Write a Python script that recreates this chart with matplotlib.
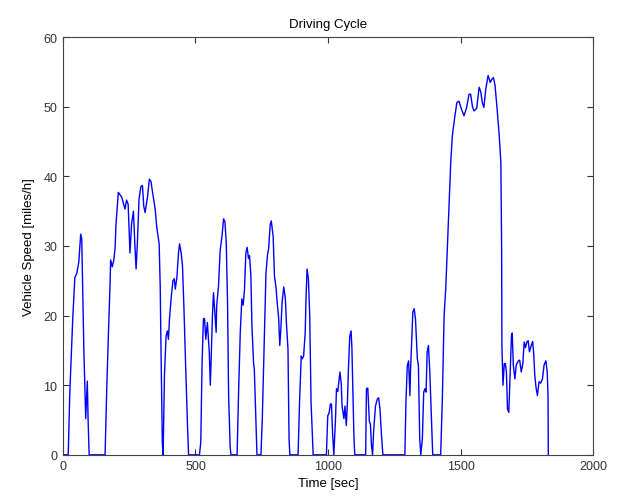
import matplotlib.pyplot as plt

# speed trace (time in s, speed in mph)
time_s = [0, 20, 26, 37, 45, 52, 60, 67, 71, 79, 86, 92, 95, 99,
          159, 165, 171, 178, 180, 186, 192, 197, 200, 209, 222, 234, 240, 246,
          253, 259, 266, 271, 276, 281, 287, 294, 300, 305, 310, 319, 326, 332,
          339, 348, 354, 363, 367, 370, 375, 378,
          383, 389, 394, 398, 402, 408, 415, 420, 424, 430, 436, 440, 446, 451,
          457, 464, 470, 474,
          515, 520, 525, 530, 534, 539, 545, 552, 556, 559, 564, 568, 573, 578,
          580, 587, 593, 600, 606, 611, 616, 621, 625, 631, 634,
          657, 663, 669, 675, 680, 685, 690, 695, 700, 704, 709, 713, 719, 722,
          728, 732,
          747, 752, 760, 766, 772, 776, 782, 786, 793, 798, 804, 808, 814, 818,
          822, 827, 833, 839, 843, 849, 853, 856,
          887, 893, 899, 903, 908, 914, 917, 921, 926, 931, 936, 944,
          994, 999, 1004, 1009, 1013, 1017, 1022, 1028, 1032, 1037, 1045, 1050,
          1053, 1060, 1064, 1069, 1073, 1077, 1082, 1087, 1090, 1094, 1098, 1101,
          1142, 1145, 1150, 1156, 1160, 1164, 1168, 1172, 1179, 1186, 1191, 1196,
          1202, 1207,
          1290, 1294, 1299, 1304, 1309, 1311, 1315, 1320, 1325, 1330, 1337, 1341,
          1346, 1350, 1356, 1361, 1366, 1370, 1374, 1379, 1384, 1390, 1395,
          1425, 1431, 1438, 1444, 1450, 1457, 1463, 1469, 1478, 1486, 1494, 1503,
          1513, 1523, 1532, 1538, 1545, 1551, 1561, 1570, 1576, 1582, 1588, 1595,
          1604, 1612, 1617, 1624, 1630, 1637, 1646, 1652, 1655, 1656, 1660, 1665,
          1669, 1673, 1677, 1682, 1687, 1692, 1695, 1699, 1705, 1710, 1718, 1723,
          1729, 1735, 1740, 1745, 1750, 1755, 1760, 1765, 1772, 1776, 1780, 1785,
          1790, 1796, 1802, 1809, 1815, 1822, 1827, 1830, 1831]
speed_mph = [0, 0, 9, 19.5, 25.5, 26, 27.7, 31.7, 31, 15, 5.2, 10.6, 5, 0,
             0, 9, 16.6, 24.8, 28, 27, 28, 29.8, 33, 37.7, 37, 35.3, 36.6, 36,
             29, 33.2, 35, 30.5, 26.7, 30.5, 36.7, 38.5, 38.7, 35.7, 34.8, 37, 39.6, 39.3,
             37.5, 35.3, 32.7, 30.3, 24.3, 15.2, 1.8, 0,
             11.4, 17, 17.8, 16.6, 19.5, 22.4, 25, 25.3, 23.8, 25.5, 29, 30.3, 29, 27.2,
             20.5, 11.4, 4.2, 0,
             0, 1.8, 13.3, 19.5, 19.6, 16.6, 19, 14.8, 10, 13.5, 20, 23.3, 20.5, 17.6,
             21.4, 24.3, 29.3, 31.4, 33.9, 33.5, 30.6, 22, 8.5, 1, 0,
             0, 9.5, 17.6, 22.4, 21.5, 23.8, 29, 29.8, 28.2, 28.6, 25.7, 18.5, 13.3, 12.3,
             5.2, 0,
             0, 5, 17, 26.2, 28.8, 29.6, 33.1, 33.6, 31.4, 25.7, 24, 22, 19.5, 15.7,
             18, 22, 24.1, 22.5, 19, 15.2, 2.3, 0,
             0, 8, 14.2, 13.8, 14.2, 17.6, 22.4, 26.7, 25.3, 20, 7.6, 0,
             0, 5.6, 6, 7.3, 7.3, 3.3, 0, 4.9, 9.5, 9.1, 11.9, 10.2,
             7, 5.2, 7, 4.2, 7.3, 12.3, 17, 17.8, 15.5, 9, 2.3, 0,
             0, 9.5, 9.6, 4.8, 4.4, 1.3, 0, 3.3, 7, 8, 8.2, 6.6,
             2.7, 0,
             0, 7.6, 12.8, 13.5, 8.5, 11.8, 15.7, 20.5, 21, 19.5, 13.8, 12.8,
             2.3, 0, 2.3, 9, 9.5, 9, 14.8, 15.7, 11.9, 5.2, 0,
             0, 7.6, 20, 23.8, 29.6, 36.7, 42, 45.8, 48.5, 50.6, 50.8, 49.7,
             48.7, 49.9, 51.8, 51.8, 50, 49.4, 49.8, 52.8, 52.2, 50.6, 49.9, 52.5,
             54.5, 53.5, 53.9, 54.2, 53.1, 50.1, 45.8, 42, 29.6, 15.7, 10, 13.1,
             13.1, 11.9, 6.6, 6.1, 11.4, 17.1, 17.5, 12.9, 10.9, 12.9, 13.5, 13.6,
             11.9, 13.1, 16.2, 15.4, 16.2, 16.4, 14.8, 15.5, 16.3, 14.5, 11.4, 9.6,
             8.5, 10.5, 10.3, 10.9, 12.9, 13.5, 11.9, 8.5, 0]

fig = plt.figure(figsize=(6.23, 5.02), dpi=100)
ax = fig.add_axes([0.101, 0.092, 0.851, 0.832])

ax.plot(time_s, speed_mph, color="#0000ff", linewidth=1.0)

ax.set_xlim(0, 2000)
ax.set_ylim(0, 60)
ax.set_xticks([0, 500, 1000, 1500, 2000])
ax.set_yticks([0, 10, 20, 30, 40, 50, 60])

ax.tick_params(direction="in", top=True, right=True, length=4,
               width=0.8, labelsize=9, colors="#333333", pad=4)
for spine in ax.spines.values():
    spine.set_color("#444444")
    spine.set_linewidth(0.8)

font = {"family": ["Liberation Sans", "DejaVu Sans"], "size": 9.5}
ax.set_title("Driving Cycle", fontdict=font, pad=7)
ax.set_xlabel("Time [sec]", fontdict=font, labelpad=3)
ax.set_ylabel("Vehicle Speed [miles/h]", fontdict=font, labelpad=6)
for lbl in ax.get_xticklabels() + ax.get_yticklabels():
    lbl.set_family(["Liberation Sans", "DejaVu Sans"])

fig.savefig("out.png", dpi=100)
